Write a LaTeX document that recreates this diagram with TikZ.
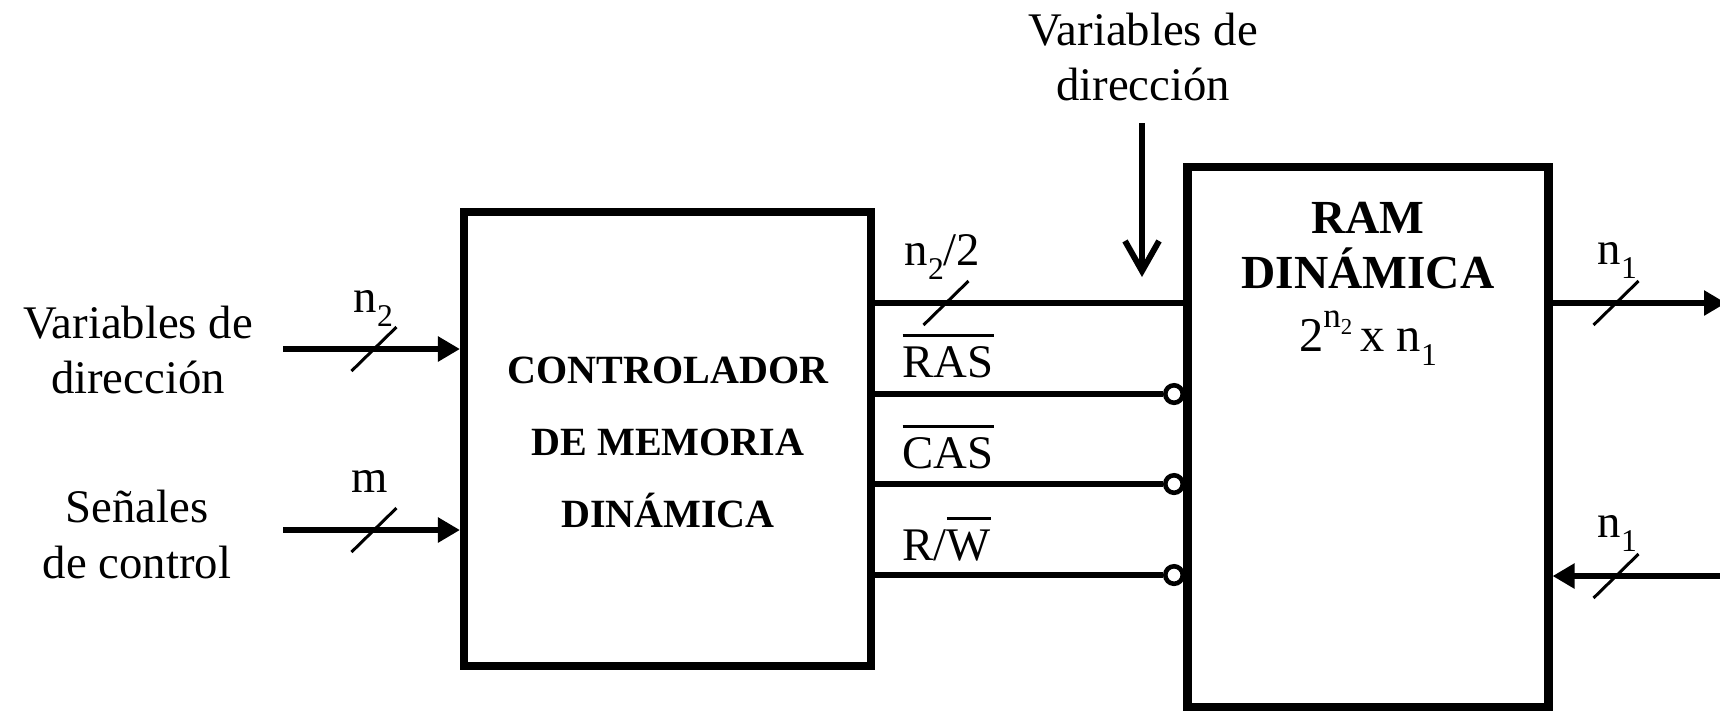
\documentclass[tikz,border=0pt]{standalone}
\usepackage{fontspec}
\setmainfont{Liberation Serif}
\usetikzlibrary{arrows.meta}

% overlined signal name (active-low)
\newcommand{\ovl}[1]{\vbox{\hrule height 0.9pt\kern 2.6pt\hbox{#1}}}
% small lowered index
\newcommand{\sbs}[1]{\raisebox{-0.3em}{\fontsize{9}{9}\selectfont #1}}

\begin{document}
\begin{tikzpicture}[x=0.1mm,y=-0.1mm,
  box/.style={draw, line width=2.3pt, inner sep=0pt},
  sig/.style={line width=1.9pt},
  inarrow/.style={line width=1.9pt, -{Triangle[length=2.2mm,width=2.4mm]}},
  bubble/.style={circle, draw, fill=white, line width=1.3pt, minimum size=1.75mm, inner sep=0pt},
  txt/.style={font=\fontsize{13.3}{15}\selectfont, inner sep=0pt, anchor=base},
  lbl/.style={font=\fontsize{13.3}{15}\selectfont, inner sep=0pt, anchor=base west},
  ctext/.style={font=\fontsize{11.4}{13}\selectfont\bfseries, inner sep=0pt, anchor=base},
  ramtext/.style={font=\fontsize{13.5}{15}\selectfont\bfseries, inner sep=0pt, anchor=base},
  bus/.pic={\draw[line width=0.85pt] (-22.5,22) -- (22.5,-22);}
]
\useasboundingbox (0,0) rectangle (1720,711);

% blocks
\node[box, minimum width=4.07cm, minimum height=4.54cm] (ctrl) at (667.5,439) {};
\node[box, minimum width=3.61cm, minimum height=5.40cm] (ram) at (1368,437) {};

% reference levels and free ends
\coordinate (yA) at (0,303);
\coordinate (inA) at (283,349);
\coordinate (inB) at (283,530);
\coordinate (outD) at (1726,303);
\coordinate (inD) at (1726,576);
\coordinate (vtop) at (1142,123);
\coordinate (vtip) at (1142,277);

% inputs of the controller
\draw[inarrow] (inA) -- (inA -| ctrl.west);
\pic at (374,349) {bus};
\draw[inarrow] (inB) -- (inB -| ctrl.west);
\pic at (374,530) {bus};

% controller -> RAM
\node[bubble] (bR) at (1174,394) {};
\node[bubble] (bC) at (1174,484) {};
\node[bubble] (bW) at (1174,575) {};
\draw[sig] (ctrl.east |- yA) -- (ram.west |- yA);
\pic at (946,303) {bus};
\draw[sig] (ctrl.east |- bR) -- (bR.west);
\draw[sig] (ctrl.east |- bC) -- (bC.west);
\draw[sig] (ctrl.east |- bW) -- (bW.west);

% address bus from above
\draw[line width=1.7pt, -{Straight Barb[length=3mm,width=3.4mm]}] (vtop) -- (vtip);

% data out / data in
\draw[inarrow] (ram.east |- outD) -- (outD);
\pic at (1616,303) {bus};
\draw[inarrow] (inD) -- (inD -| ram.east);
\pic at (1616,576) {bus};

% texts
\node[txt] (la1) at (138,338) {Variables de};
\node[txt] (la2) at (138,393) {dirección};
\node[txt] (lc1) at (137,522) {Señales};
\node[txt] (lc2) at (137,578) {de control};
\node[txt] (ta1) at (1143,45) {Variables de};
\node[txt] (ta2) at (1143,100) {dirección};

\node[lbl] (wn2) at (353,312) {n\sbs{2}};
\node[txt] (wm) at (370,492) {m};
\node[lbl] (wa) at (904,265) {n\sbs{2}/2};
\node[lbl] (sras) at (902,377) {\ovl{RAS}};
\node[lbl] (scas) at (902,468) {\ovl{CAS}};
\node[lbl] (srw) at (902,560) {R/\ovl{W}};
\node[lbl] (wo) at (1597,264) {n\sbs{1}};
\node[lbl] (wi) at (1597,537) {n\sbs{1}};

\node[ctext] (c1) at (668,383) {CONTROLADOR};
\node[ctext] (c2) at (668,455) {DE MEMORIA};
\node[ctext] (c3) at (668,527) {DINÁMICA};

\node[ramtext] (r1) at (1368,233) {RAM};
\node[ramtext] (r2) at (1368,288) {DINÁMICA};
\node[txt, font=\fontsize{13.8}{15}\selectfont] (r3) at (1368,351) {2\raisebox{0.48em}{\fontsize{10}{10}\selectfont n\raisebox{-0.2em}{\fontsize{6.5}{6.5}\selectfont 2}}\,x n\sbs{1}};
\end{tikzpicture}
\end{document}
